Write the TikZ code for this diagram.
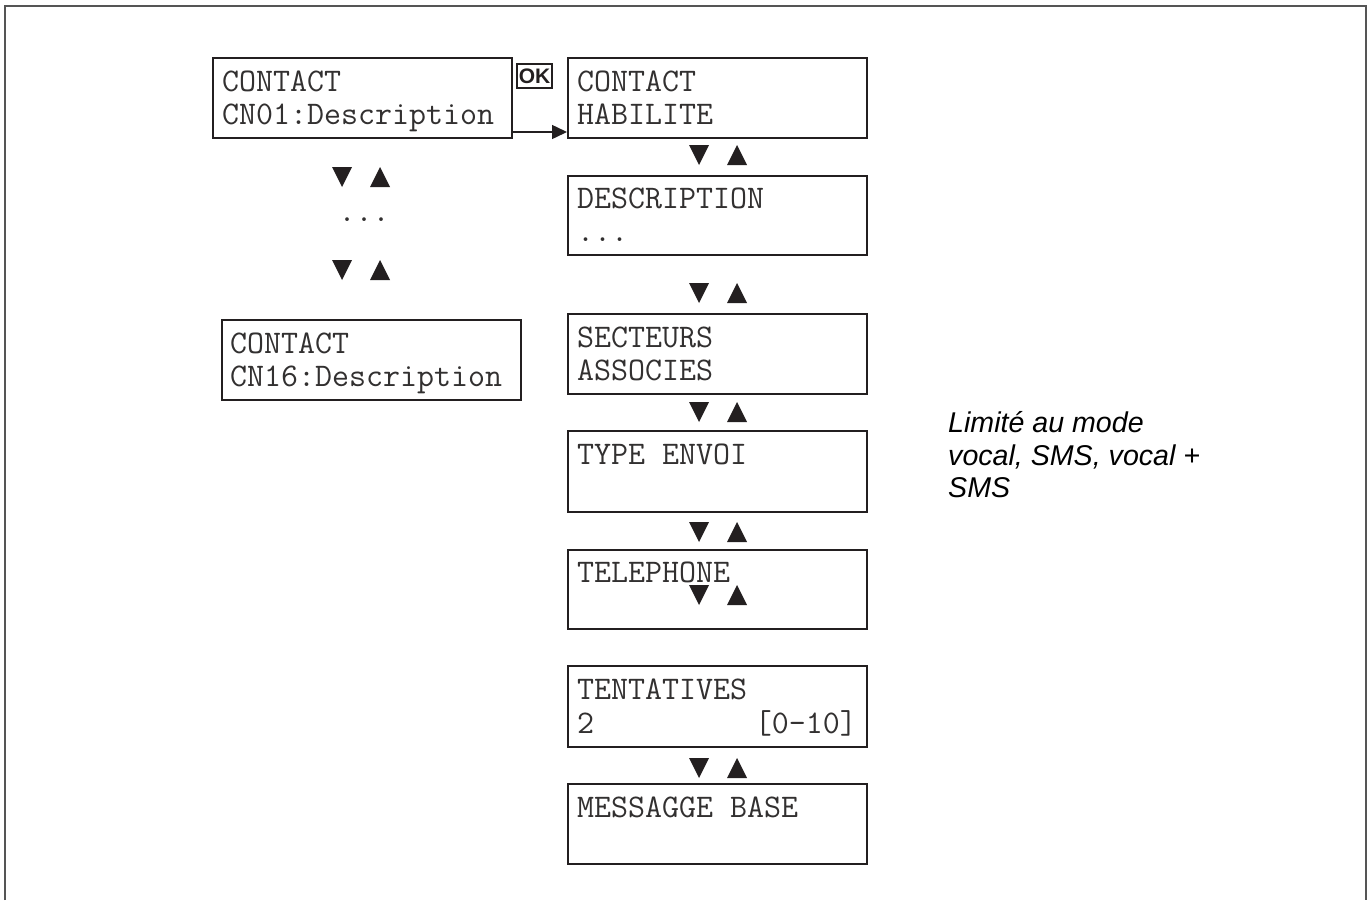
\documentclass[tikz,border=0pt]{standalone}
\usepackage{fontspec}
\setsansfont{Liberation Sans}
\usetikzlibrary{arrows.meta,calc}
\definecolor{ink}{RGB}{35,31,32}
\definecolor{lcdink}{RGB}{50,48,48}
\definecolor{framegray}{RGB}{85,85,85}
\tikzset{
  updown/.pic={
    \fill[ink] (-29,-10) -- (-9,-10) -- (-19,10) -- cycle;
    \fill[ink] (9,10) -- (29,10) -- (19,-10) -- cycle;
  }
}
\begin{document}
\begin{tikzpicture}[x=1pt,y=-1pt,
  lcd/.style={draw=ink, line width=2pt, inner sep=0pt, anchor=north west, minimum width=299pt, minimum height=80pt},
  lcdtxt/.style={font=\fontsize{33}{33}\ttfamily, text=lcdink, inner sep=0pt, anchor=base west},
  note/.style={font=\fontsize{28.6}{33}\sffamily\itshape, text=black, inner sep=0pt, anchor=base west}
]
\useasboundingbox (0,0) rectangle (1371,900);
% outer frame
\draw[framegray, line width=2pt] (4.5,900) -- (4.5,6) -- (1365.5,6) -- (1365.5,900);

% left column
\node[lcd] (b1) at (212,57) {};
\node[lcdtxt] (b1a) at ($(b1.north west)+(10,34)$) {CONTACT};
\node[lcdtxt] (b1b) at ($(b1.north west)+(10,67)$) {CN01:Description};

\pic at (361,177) {updown};
\node[lcdtxt, anchor=base] (ldots) at (364,221) {...};
\pic at (361,270) {updown};

\node[lcd] (bl) at (221,319) {};
\node[lcdtxt] (bla) at ($(bl.north west)+(9,34)$) {CONTACT};
\node[lcdtxt] (blb) at ($(bl.north west)+(9,67)$) {CN16:Description};

% OK key and arrow
\node[draw=ink, line width=2pt, minimum width=35pt, minimum height=24pt, inner sep=0pt,
      font=\fontsize{21}{21}\sffamily\bfseries, text=ink, anchor=north west] (ok) at (516,63) {OK};

% right column
\node[lcd] (b2) at (567,57) {};
\node[lcdtxt] (b2a) at ($(b2.north west)+(10,34)$) {CONTACT};
\node[lcdtxt] (b2b) at ($(b2.north west)+(10,67)$) {HABILITE};

\draw[ink, line width=1.5pt, -{Triangle[length=15pt,width=14pt]}]
  ([yshift=7pt]b1.south east) -- ([yshift=7pt]b2.south west);

\pic at (718,155) {updown};

\node[lcd, minimum height=79pt] (b3) at (567,175) {};
\node[lcdtxt] (b3a) at ($(b3.north west)+(10,33)$) {DESCRIPTION};
\node[lcdtxt] (b3b) at ($(b3.north west)+(10,66)$) {...};

\pic at (718,293) {updown};

\node[lcd] (b4) at (567,313) {};
\node[lcdtxt] (b4a) at ($(b4.north west)+(10,34)$) {SECTEURS};
\node[lcdtxt] (b4b) at ($(b4.north west)+(10,67)$) {ASSOCIES};

\pic at (718,412) {updown};

\node[lcd, minimum height=81pt] (b5) at (567,430) {};
\node[lcdtxt] (b5a) at ($(b5.north west)+(10,34)$) {TYPE ENVOI};

\pic at (718,532) {updown};

\node[lcd, minimum height=79pt] (b6) at (567,549) {};
\node[lcdtxt] (b6a) at ($(b6.north west)+(10,33)$) {TELEPHONE};
\pic at (718,595) {updown};

\node[lcd, minimum height=81pt] (b7) at (567,665) {};
\node[lcdtxt] (b7a) at ($(b7.north west)+(10,34)$) {TENTATIVES};
\node[lcdtxt] (b7b) at ($(b7.north west)+(10,68)$) {2};
\node[lcdtxt, anchor=base east] (b7c) at ($(b7.north east)+(-11,68)$) {[0-10]};

\pic at (718,768) {updown};

\node[lcd] (b8) at (567,783) {};
\node[lcdtxt] (b8a) at ($(b8.north west)+(10,34)$) {MESSAGGE BASE};

% note
\node[note] (n1) at (948,432) {Limité au mode};
\node[note] (n2) at (948,465) {vocal, SMS, vocal +};
\node[note] (n3) at (948,497) {SMS};
\end{tikzpicture}
\end{document}
